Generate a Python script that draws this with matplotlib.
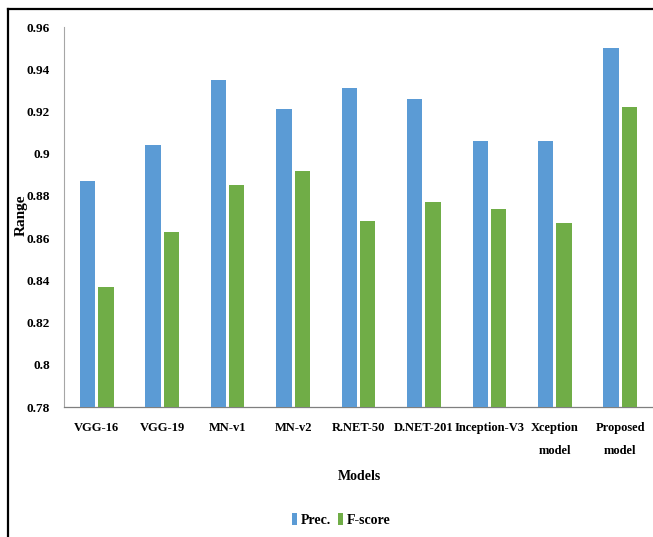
import matplotlib
matplotlib.use("Agg")
import matplotlib.pyplot as plt
from matplotlib.lines import Line2D
import numpy as np

models = ["VGG-16", "VGG-19", "MN-v1", "MN-v2", "R.NET-50", "D.NET-201",
          "Inception-V3", "Xception\nmodel", "Proposed\nmodel"]
prec = [0.887, 0.904, 0.935, 0.921, 0.931, 0.926, 0.906, 0.906, 0.950]
fscore = [0.837, 0.863, 0.885, 0.892, 0.868, 0.877, 0.874, 0.867, 0.922]
yticks = [0.78, 0.80, 0.82, 0.84, 0.86, 0.88, 0.90, 0.92, 0.94, 0.96]
ytick_labels = ["0.78", "0.8", "0.82", "0.84", "0.86", "0.88", "0.9", "0.92", "0.94", "0.96"]
series_names = ["Prec.", "F-score"]

plt.rcParams['font.family'] = ['Liberation Serif', 'DejaVu Serif']
plt.rcParams['font.weight'] = 'bold'

fig = plt.figure(figsize=(6.53, 5.37), dpi=100)
ax = fig.add_axes([64/653, 1 - 407/537, 1 - 64/653, (407 - 27)/537])

x = np.arange(len(models))
bw = 0.233
off = 0.14
ax.bar(x - off, prec, bw, color="#5B9BD5", label=series_names[0], zorder=3)
ax.bar(x + off, fscore, bw, color="#70AD47", label=series_names[1], zorder=3)

ax.set_xlim(-0.5, len(models) - 0.5)
ax.set_ylim(0.78, 0.96)
ax.set_yticks(yticks)
ax.set_yticklabels(ytick_labels, fontsize=9.5, fontweight='bold')
ax.set_xticks(x)
ax.set_xticklabels(models, fontsize=9, fontweight='bold', linespacing=2.2, va='top')
ax.tick_params(axis='both', length=0)
ax.tick_params(axis='y', pad=10)
ax.tick_params(axis='x', pad=11)

for s in ['top', 'right']:
    ax.spines[s].set_visible(False)
ax.spines['left'].set_color('#A6A6A6')
ax.spines['bottom'].set_color('#7F7F7F')
ax.spines['left'].set_linewidth(0.8)
ax.spines['bottom'].set_linewidth(0.9)

fig.text(21/653, 1 - 215/537, "Range", rotation=90, ha='center', va='center',
         fontsize=11, fontweight='bold')
fig.text(359/653, 1 - 477/537, "Models", ha='center', va='center',
         fontsize=10, fontweight='bold')

leg = fig.legend(loc='center', bbox_to_anchor=(341/653, 1 - 520/537), ncol=2,
                 frameon=False, fontsize=10, handlelength=0.4, handleheight=0.9,
                 handletextpad=0.25, columnspacing=0.5)

# outer frame (top and left visible)
fig.add_artist(Line2D([8/653, 8/653], [0, 1 - 9/537], transform=fig.transFigure,
                      color='black', lw=1.6))
fig.add_artist(Line2D([8/653, 1], [1 - 9/537, 1 - 9/537], transform=fig.transFigure,
                      color='black', lw=1.6))

fig.savefig("out.png", dpi=100)
